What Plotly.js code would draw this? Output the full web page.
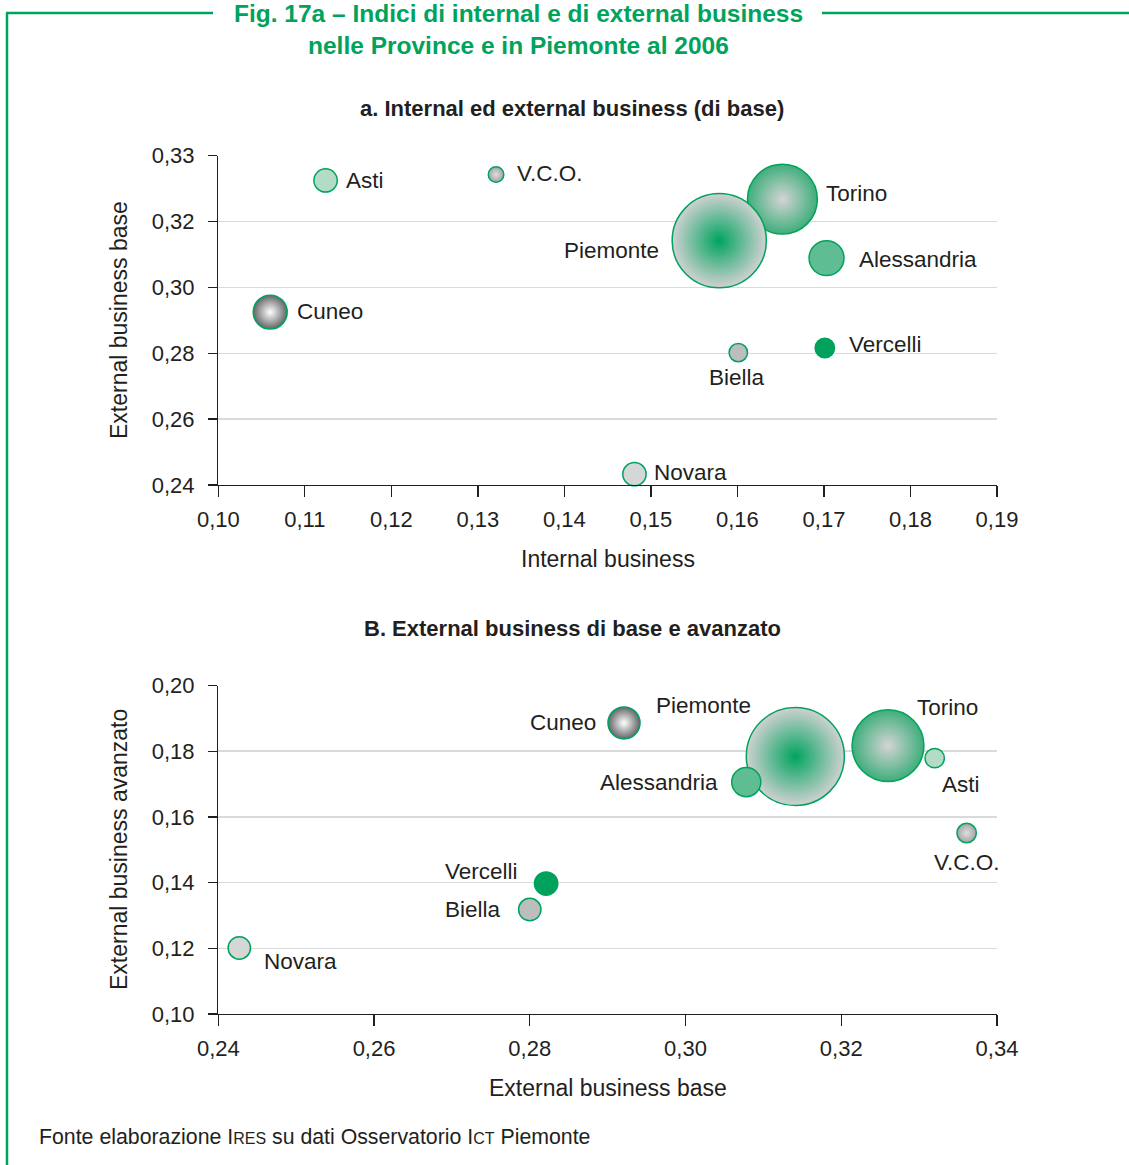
<!DOCTYPE html>
<html>
<head>
<meta charset="utf-8">
<script src="https://cdn.plot.ly/plotly-3.0.1.min.js"></script>
<style>
html,body{margin:0;padding:0;background:#fff;}
#chart{width:1129px;height:1165px;}
</style>
</head>
<body>
<div id="chart"></div>
<script>
// ---------- DATA ----------
const provinces = ['Torino','Piemonte','Alessandria','Asti','Cuneo','V.C.O.','Biella','Vercelli','Novara'];
// Panel a: internal business (x) vs external business base (y)
const internalBusiness = [0.1652,0.1579,0.1703,0.1124,0.1060,0.1321,0.1601,0.1701,0.1481];
const externalBaseA    = [0.3268,0.3142,0.3089,0.3325,0.2925,0.3343,0.2802,0.2816,0.2433];
const weightA          = [72,97,36,24,35,16,19,20,24];
// Panel B: external business base (x) vs external business avanzato (y)
const externalBaseB    = [0.3260,0.3141,0.3078,0.3320,0.2921,0.3361,0.2800,0.2821,0.2427];
const externalAdvanced = [0.1817,0.1784,0.1706,0.1779,0.1886,0.1551,0.1318,0.1397,0.1201];
const weightB          = [74,101,30,20,33,20,23,24,23];

const xTicksA = [0.10,0.11,0.12,0.13,0.14,0.15,0.16,0.17,0.18,0.19];
const yTicksA = [0.24,0.26,0.28,0.30,0.32,0.34];
const yTickTextA = ['0,24','0,26','0,28','0,30','0,32','0,33'];
const xTicksB = [0.24,0.26,0.28,0.30,0.32,0.34];
const yTicksB = [0.10,0.12,0.14,0.16,0.18,0.20];

// ---------- STYLE ----------
const GREEN = '#00a35c';
const TXT = '#231f20';
const FONT = 'Liberation Sans, Arial, sans-serif';
const bubbleStyle = {
  'Torino':     {edge:'#3fae7c', center:'#d4d4d4', grad:'radial'},
  'Piemonte':   {edge:'#d0d1d1', center:'#00a45f', grad:'radial'},
  'Alessandria':{edge:'#5fbd93', center:'#5fbd93', grad:'none'},
  'Asti':       {edge:'#b3dcc6', center:'#b3dcc6', grad:'none'},
  'Cuneo':      {edge:'#646567', center:'#ffffff', grad:'radial'},
  'V.C.O.':     {edge:'#a2a3a5', center:'#dedede', grad:'radial'},
  'Biella':     {edge:'#bcbdbf', center:'#bcbdbf', grad:'none'},
  'Vercelli':   {edge:'#00a15c', center:'#00a15c', grad:'none'},
  'Novara':     {edge:'#d5d6d7', center:'#d5d6d7', grad:'none'}
};
// label placement (pixel offsets relative to bubble centre)
const labelA = {
  'Torino':     {xa:'left',  dx:42,  dy:6},
  'Piemonte':   {xa:'right', dx:-58, dy:-10},
  'Alessandria':{xa:'left',  dx:30,  dy:-1},
  'Asti':       {xa:'left',  dx:18,  dy:0},
  'Cuneo':      {xa:'left',  dx:25,  dy:1},
  'V.C.O.':     {xa:'left',  dx:19,  dy:1},
  'Biella':     {xa:'center',dx:-1,  dy:-25},
  'Vercelli':   {xa:'left',  dx:22,  dy:4},
  'Novara':     {xa:'left',  dx:18,  dy:2}
};
const labelB = {
  'Torino':     {xa:'center',dx:60,  dy:38},
  'Piemonte':   {xa:'center',dx:-92, dy:51},
  'Alessandria':{xa:'right', dx:-26, dy:0},
  'Asti':       {xa:'center',dx:26,  dy:-26},
  'Cuneo':      {xa:'right', dx:-26, dy:0},
  'V.C.O.':     {xa:'center',dx:0,   dy:-29},
  'Biella':     {xa:'right', dx:-27, dy:0},
  'Vercelli':   {xa:'right', dx:-26, dy:12},
  'Novara':     {xa:'left',  dx:23,  dy:-14}
};

const W = 1129, H = 1165;
const px2x = p => p / W;
const px2y = p => 1 - p / H;

function bubbleTrace(xs, ys, ws, xaxis, yaxis) {
  return {
    type: 'scatter', mode: 'markers',
    x: xs, y: ys, xaxis: xaxis, yaxis: yaxis,
    text: provinces, hoverinfo: 'text',
    marker: {
      size: ws, sizemode: 'diameter', sizeref: 1.03,
      color: provinces.map(p => bubbleStyle[p].edge),
      gradient: {
        type: provinces.map(p => bubbleStyle[p].grad),
        color: provinces.map(p => bubbleStyle[p].center)
      },
      line: {color: GREEN, width: 1.5},
      opacity: 1
    },
    showlegend: false, cliponaxis: false
  };
}

const data = [
  bubbleTrace(internalBusiness, externalBaseA, weightA, 'x', 'y'),
  bubbleTrace(externalBaseB, externalAdvanced, weightB, 'x2', 'y2')
];

const LBL = 22.5;
const annotations = [];
provinces.forEach((p, i) => {
  const a = labelA[p];
  annotations.push({x: internalBusiness[i], y: externalBaseA[i], xref:'x', yref:'y',
    text: p, showarrow:false, xanchor:a.xa, yanchor:'middle', xshift:a.dx, yshift:a.dy,
    font:{family:FONT, size:LBL, color:TXT}});
  const b = labelB[p];
  annotations.push({x: externalBaseB[i], y: externalAdvanced[i], xref:'x2', yref:'y2',
    text: p, showarrow:false, xanchor:b.xa, yanchor:'middle', xshift:b.dx, yshift:b.dy,
    font:{family:FONT, size:LBL, color:TXT}});
});

function txt(text, xpx, ypx, size, opts) {
  return Object.assign({text:text, xref:'paper', yref:'paper', x:px2x(xpx), y:px2y(ypx),
    showarrow:false, xanchor:'center', yanchor:'middle',
    font:{family:FONT, size:size, color:TXT}}, opts || {});
}
annotations.push(txt('Fig. 17a – Indici di internal e di external business', 518, 14, 24.5, {font:{family:FONT, size:24.5, color:GREEN, weight:600}}));
annotations.push(txt('nelle Province e in Piemonte al 2006', 518, 45, 24.5, {font:{family:FONT, size:24.5, color:GREEN, weight:600}}));
annotations.push(txt('<b>a. Internal ed external business (di base)</b>', 572, 108, 22));
annotations.push(txt('<b>B. External business di base e avanzato</b>', 572, 628, 22));
annotations.push(txt('Internal business', 608, 559, 23));
annotations.push(txt('External business base', 608, 1088, 23));
annotations.push(txt('External business base', 119, 320, 23, {textangle:-90}));
annotations.push(txt('External business avanzato', 119, 850, 23, {textangle:-90}));
annotations.push(txt('Fonte elaborazione I<span style="font-size:16px">RES</span> su dati Osservatorio I<span style="font-size:16px">CT</span> Piemonte', 37, 1137, 21.3, {xanchor:'left'}));

const shapes = [
  {type:'line', xref:'paper', yref:'paper', x0:px2x(7), x1:px2x(7), y0:px2y(13), y1:px2y(1165), line:{color:GREEN, width:2.5}},
  {type:'line', xref:'paper', yref:'paper', x0:px2x(6), x1:px2x(213), y0:px2y(13), y1:px2y(13), line:{color:GREEN, width:2.5}},
  {type:'line', xref:'paper', yref:'paper', x0:px2x(822), x1:px2x(1129), y0:px2y(13), y1:px2y(13), line:{color:GREEN, width:2.5}}
];

const TICKF = 22;
const xDomain = [px2x(218.3), px2x(997)];
function xAxis(range, ticks, anchor) {
  return {domain:xDomain, range:range, tickvals:ticks, tickformat:'.2f', anchor:anchor,
    showline:true, linecolor:TXT, linewidth:1.3, ticks:'outside', ticklen:11, tickwidth:1.3, tickcolor:TXT,
    ticklabelstandoff:3,
    showgrid:false, zeroline:false, fixedrange:true,
    tickfont:{family:FONT, size:TICKF, color:TXT}};
}
function yAxis(range, ticks, domain, anchor, ticktext) {
  const o = {domain:domain, range:range, tickvals:ticks, tickformat:'.2f', anchor:anchor,
    showline:true, linecolor:TXT, linewidth:1.3, ticks:'outside', ticklen:9, tickwidth:1.3, tickcolor:TXT,
    ticklabelstandoff:9,
    showgrid:true, gridcolor:'#dadada', gridwidth:1.5, zeroline:false, fixedrange:true,
    tickfont:{family:FONT, size:TICKF, color:TXT}};
  if (ticktext) o.ticktext = ticktext;
  return o;
}

const layout = {
  width: W, height: H,
  margin: {l:0, r:0, t:0, b:0},
  paper_bgcolor: '#ffffff', plot_bgcolor: 'rgba(0,0,0,0)',
  separators: ',.',
  showlegend: false,
  font: {family: FONT, color: TXT},
  xaxis: xAxis([0.10, 0.19], xTicksA, 'y'),
  yaxis: yAxis([0.24, 0.34], yTicksA, [px2y(485), px2y(155.7)], 'x', yTickTextA),
  xaxis2: xAxis([0.24, 0.34], xTicksB, 'y2'),
  yaxis2: yAxis([0.10, 0.20], yTicksB, [px2y(1014), px2y(685.5)], 'x2'),
  annotations: annotations,
  shapes: shapes
};

Plotly.newPlot('chart', data, layout, {displayModeBar:false, staticPlot:true});
</script>
</body>
</html>
